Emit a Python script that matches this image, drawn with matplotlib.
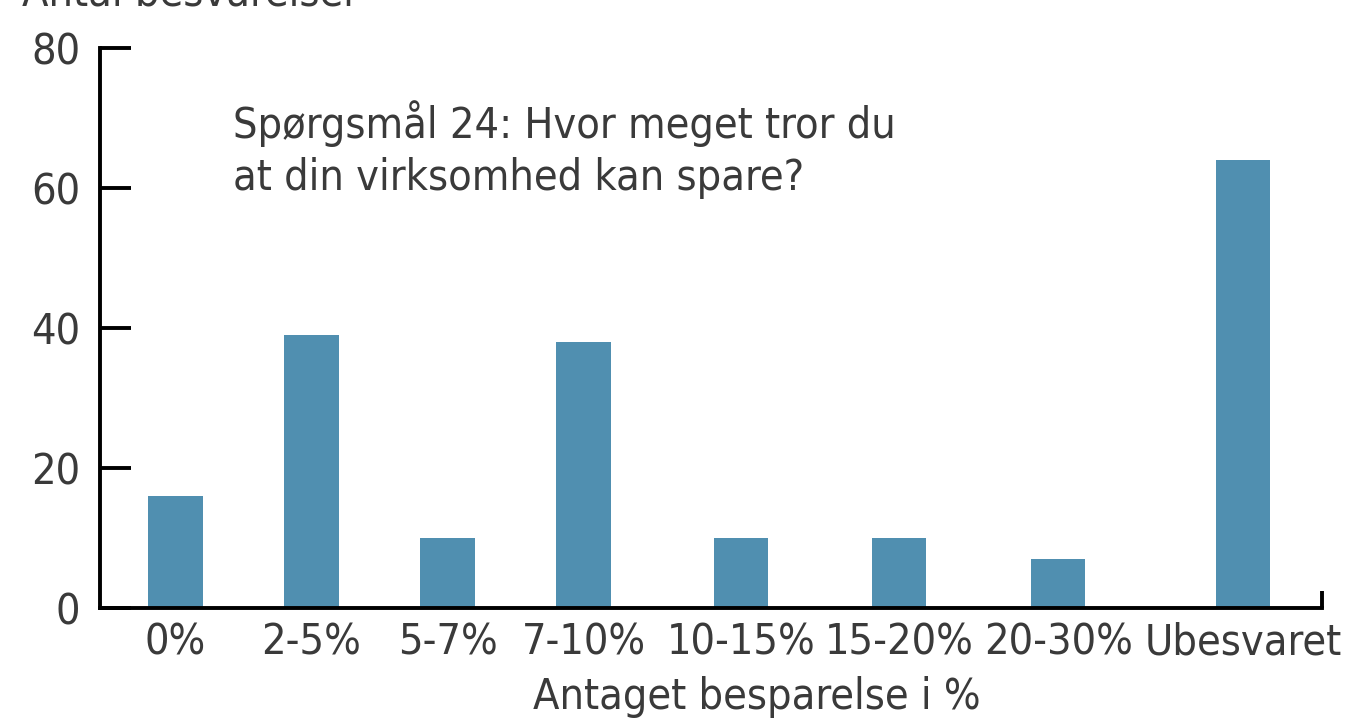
import matplotlib
matplotlib.use("Agg")
import matplotlib.pyplot as plt

plt.rcParams['font.family'] = ['DejaVu Sans']
plt.rcParams['font.stretch'] = 'condensed'

categories = ['0%', '2-5%', '5-7%', '7-10%', '10-15%', '15-20%', '20-30%', 'Ubesvaret']
counts = [16, 39, 10, 38, 10, 10, 7, 64]
yticks = [0, 20, 40, 60, 80]

# category slots are not evenly spaced in the original layout
slot_pos = [0, 1, 2, 3, 4.16, 5.32, 6.49, 7.85]

txt_col = '#3a3a3a'
bar_col = '#508fb0'
fs = 31

fig = plt.figure(figsize=(13.62, 7.2), dpi=100)
ax = fig.add_axes([100/1362, 1-608/720, 1222/1362, 560/720])

ax.bar(slot_pos, counts, width=0.40, color=bar_col)

ax.set_xlim(-0.555, 8.43)
ax.set_ylim(0, 80)
ax.set_yticks(yticks)
ax.set_xticks(slot_pos)
ax.set_xticklabels(categories)

for s in ['top', 'right']:
    ax.spines[s].set_visible(False)
ax.spines['left'].set_linewidth(2.8)
ax.spines['bottom'].set_linewidth(2.8)

ax.tick_params(axis='y', direction='in', length=22, width=2.8, labelsize=fs,
               labelcolor=txt_col, pad=-6)
ax.tick_params(axis='x', length=0, labelsize=fs, labelcolor=txt_col, pad=10)
for lab in ax.get_yticklabels():
    lab.set_horizontalalignment('right')
    lab.set_x(-28/1222)

# small upward tick at the right end of the x axis
ax.plot([1, 1], [0, 0.03], transform=ax.transAxes, color='black', lw=2.8,
        clip_on=False, solid_capstyle='butt')

ax.set_xlabel('Antaget besparelse i %', fontsize=fs, color=txt_col, va='baseline')
ax.xaxis.set_label_coords(0.5376, (608-709)/560)

fig.text(233/1362, 1-190/720, 'Spørgsmål 24: Hvor meget tror du\nat din virksomhed kan spare?',
         fontsize=fs, color=txt_col, va='baseline', linespacing=1.3)

fig.text(22/1362, 1-6/720, 'Antal besvarelser', fontsize=fs, color=txt_col, va='baseline')

fig.savefig('out.png', dpi=100)
